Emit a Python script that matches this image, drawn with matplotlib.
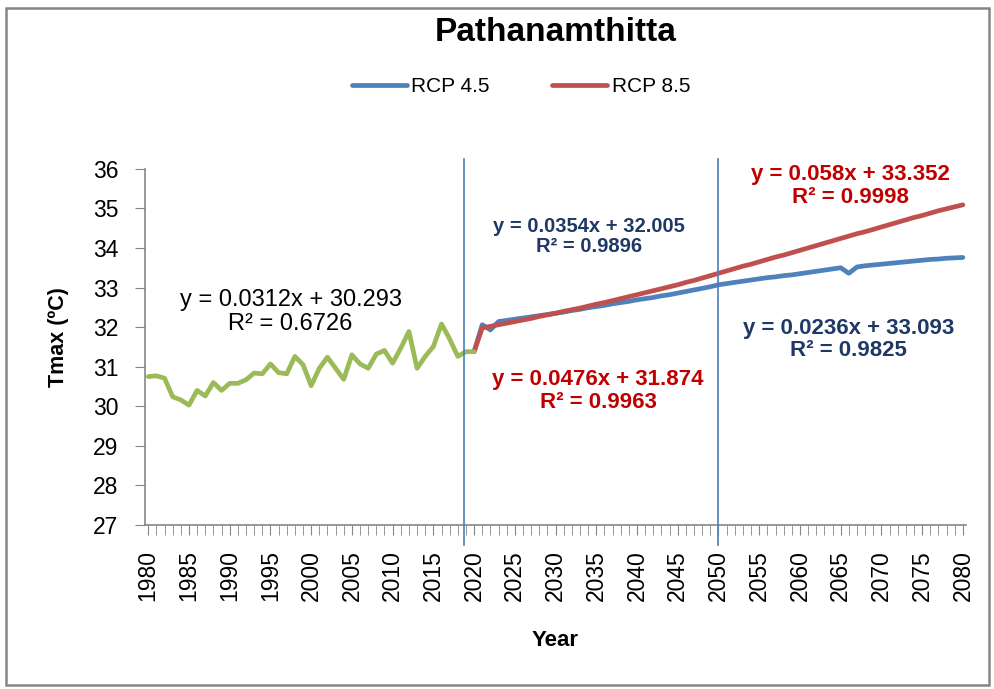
import matplotlib
matplotlib.use("Agg")
import matplotlib.pyplot as plt
from matplotlib.patches import Rectangle
from matplotlib.ticker import MultipleLocator

plt.rcParams['font.family'] = ['Liberation Sans', 'DejaVu Sans']

# observed Tmax, 1980-2020
obs_years = list(range(1980, 2021))
obs_tmax = [30.75, 30.77, 30.71, 30.24, 30.16, 30.03, 30.40, 30.26, 30.60, 30.40,
            30.58, 30.58, 30.67, 30.84, 30.82, 31.07, 30.85, 30.82, 31.26, 31.05,
            30.52, 30.96, 31.24, 30.96, 30.68, 31.30, 31.07, 30.96, 31.32, 31.41,
            31.09, 31.47, 31.89, 30.96, 31.26, 31.51, 32.08, 31.70, 31.26, 31.38,
            31.38]

# projections, 2020-2080
proj_years = list(range(2020, 2081))
rcp45 = [31.38, 32.06, 31.93, 32.14, 32.17, 32.20, 32.23, 32.26, 32.29, 32.32,
         32.35, 32.38, 32.42, 32.45, 32.49, 32.52, 32.55, 32.59, 32.62, 32.65,
         32.69, 32.72, 32.75, 32.79, 32.82, 32.86, 32.90, 32.94, 32.98, 33.02,
         33.07, 33.10, 33.13, 33.16, 33.19, 33.22, 33.25, 33.27, 33.30, 33.32,
         33.35, 33.38, 33.41, 33.44, 33.47, 33.50, 33.36, 33.52, 33.55, 33.57,
         33.59, 33.61, 33.63, 33.65, 33.67, 33.69, 33.71, 33.72, 33.74, 33.75,
         33.76]
rcp85 = [31.38, 31.98, 32.02, 32.06, 32.10, 32.14, 32.18, 32.22, 32.27, 32.31,
         32.35, 32.40, 32.44, 32.48, 32.53, 32.58, 32.62, 32.67, 32.72, 32.77,
         32.82, 32.87, 32.92, 32.97, 33.02, 33.07, 33.13, 33.18, 33.24, 33.30,
         33.36, 33.42, 33.48, 33.54, 33.59, 33.65, 33.71, 33.77, 33.82, 33.88,
         33.94, 34.00, 34.06, 34.12, 34.18, 34.24, 34.30, 34.36, 34.41, 34.47,
         34.53, 34.59, 34.65, 34.71, 34.77, 34.82, 34.88, 34.94, 34.99, 35.04,
         35.09]

split_years = [2018.7, 2050]
xticks = list(range(1980, 2081, 5))

fig = plt.figure(figsize=(9.95, 6.89), dpi=100)
ax = fig.add_axes([0.1457, 0.238, 0.8253, 0.517])

ax.plot(proj_years, rcp45, color='#4F81BD', lw=3.4, label='RCP 4.5', solid_capstyle='round')
ax.plot(proj_years, rcp85, color='#C0504D', lw=3.4, label='RCP 8.5', solid_capstyle='round')
ax.plot(obs_years, obs_tmax, color='#9BBB59', lw=3.4, solid_capstyle='round')

for xv in split_years:
    ax.plot([xv, xv], [26.5, 36.25], color='#4A7EBB', lw=1.2, clip_on=False, zorder=5)

ax.set_xlim(1979.6, 2080.4)
ax.set_ylim(27, 36)
ax.set_xticks(xticks)
ax.set_xticklabels([str(t) for t in xticks], rotation=90, fontsize=16.5)
ax.xaxis.set_minor_locator(MultipleLocator(1))
ax.yaxis.set_major_locator(MultipleLocator(1))
ax.tick_params(axis='x', which='both', direction='out', length=7, color='#868686', pad=11)
ax.tick_params(axis='y', direction='out', length=7, color='#868686', labelsize=16.5, pad=12)
for s in ['top', 'right']:
    ax.spines[s].set_visible(False)
for s in ['left', 'bottom']:
    ax.spines[s].set_color('#868686')
    ax.spines[s].set_linewidth(1.2)

ax.set_xlabel('Year', fontsize=16, fontweight='bold', va='center')
ax.xaxis.set_label_coords(0.5, -0.323)
ax.set_ylabel('Tmax (ºC)', fontsize=15.5, fontweight='bold', va='center')
ax.yaxis.set_label_coords(-0.1047, 0.528)

fig.text(0.558, 0.953, 'Pathanamthitta', ha='center', va='center', fontsize=24, fontweight='bold')
fig.legend(loc='center', bbox_to_anchor=(0.5236, 0.874), ncol=2, frameon=False,
           fontsize=15, handlelength=2.65, columnspacing=3.0, handletextpad=0.2)

fig.text(0.292, 0.547, 'y = 0.0312x + 30.293\nR² = 0.6726', ha='center', va='center',
         fontsize=17, color='black', linespacing=1.1)
fig.text(0.592, 0.657, 'y = 0.0354x + 32.005\nR² = 0.9896', ha='center', va='center',
         fontsize=14.5, color='#1F3864', fontweight='bold', linespacing=1.1)
fig.text(0.855, 0.730, 'y = 0.058x + 33.352\nR² = 0.9998', ha='center', va='center',
         fontsize=16, color='#C00000', fontweight='bold', linespacing=1.1)
fig.text(0.601, 0.4325, 'y = 0.0476x + 31.874\nR² = 0.9963', ha='center', va='center',
         fontsize=16, color='#C00000', fontweight='bold', linespacing=1.1)
fig.text(0.853, 0.507, 'y = 0.0236x + 33.093\nR² = 0.9825', ha='center', va='center',
         fontsize=16, color='#1F3864', fontweight='bold', linespacing=1.1)

fig.patches.append(Rectangle((0.006, 0.006), 0.988, 0.982, transform=fig.transFigure,
                             fill=False, edgecolor='#868686', lw=1.8))

fig.savefig('out.png', dpi=100)
